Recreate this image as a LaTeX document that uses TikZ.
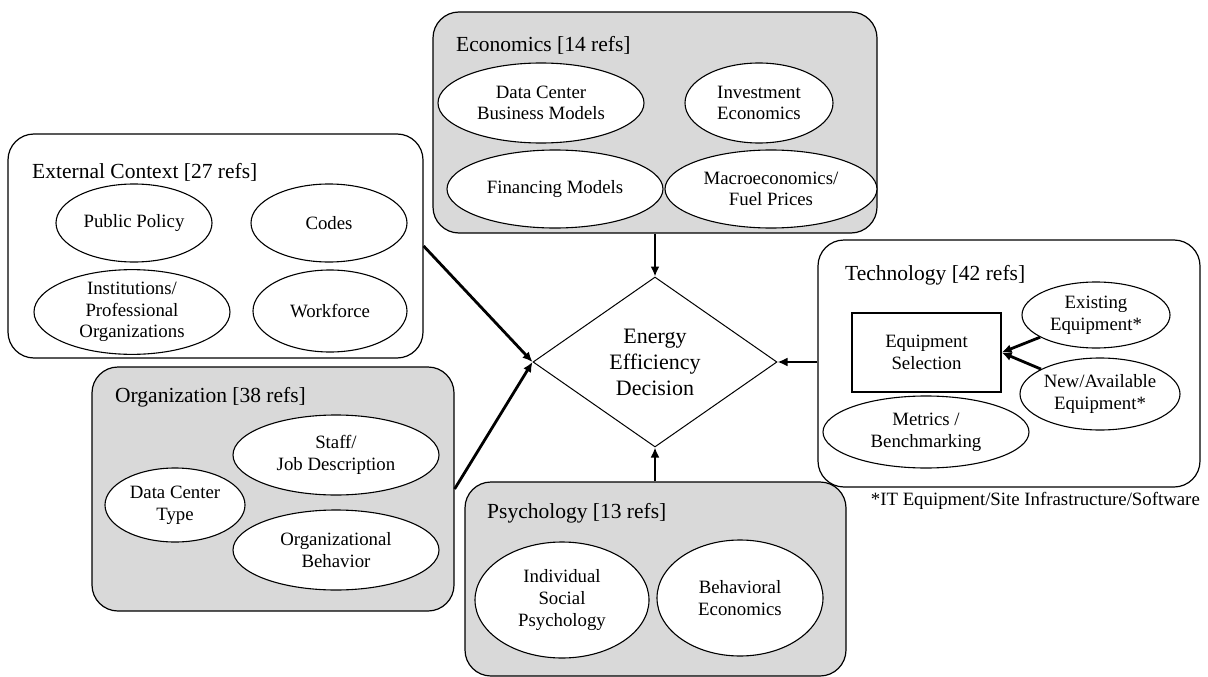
\documentclass[tikz,border=0pt]{standalone}
\usepackage{fontspec}
\setmainfont{Liberation Serif}
\usetikzlibrary{arrows.meta, shapes.geometric}

\definecolor{panelgray}{RGB}{217,217,217}
\newcommand\headfont{\fontsize{21.5}{25}\selectfont}
\newcommand\topicfont{\fontsize{18.8}{21.7}\selectfont}
\newcommand\decfont{\fontsize{22}{26}\selectfont}

\begin{document}
\begin{tikzpicture}[x=1pt, y=-1pt]
\useasboundingbox (0,0) rectangle (1208,677);

% category panels
\begin{scope}[every node/.style={draw, line width=1.2pt, rounded corners=26pt, inner sep=0pt}]
    \node (ext) at (215.5, 246) [fill=white, minimum width=415, minimum height=224] {};
    \node (econ) at (655, 122.5) [fill=panelgray, minimum width=444, minimum height=221] {};
    \node (org) at (273, 489) [fill=panelgray, minimum width=362, minimum height=244] {};
    \node (tech) at (1009, 363.5) [fill=white, minimum width=382, minimum height=247] {};
    \node (psych) at (655.5, 579) [fill=panelgray, minimum width=381, minimum height=194] {};
\end{scope}

\begin{scope}[every node/.style={anchor=base west, inner sep=0pt, font=\headfont}]
    \node (ext-title) at (32, 178) {External Context [27 refs]};
    \node (econ-title) at (456, 52) {Economics [14 refs]};
    \node (org-title) at (115, 402) {Organization [38 refs]};
    \node (tech-title) at (845, 280) {Technology [42 refs]};
    \node (psych-title) at (487, 518) {Psychology [13 refs]};
\end{scope}

% topics
\begin{scope}[every node/.style={ellipse, draw, fill=white, line width=1.1pt, inner sep=0pt, align=center, font=\topicfont}]
    \node (pub) at (134, 223) [minimum width=156, minimum height=78] {Public Policy};
    \node (codes) at (329, 223) [minimum width=156, minimum height=78] {Codes};
    \node (inst) at (132, 312) [minimum width=196, minimum height=82] {Institutions/\\Professional\\Organizations};
    \node (work) at (330, 311) [minimum width=154, minimum height=82] {Workforce};

    \node (dcbm) at (541, 103) [minimum width=206, minimum height=80] {Data Center\\Business Models};
    \node (inv) at (759, 103) [minimum width=148, minimum height=80] {Investment\\Economics};
    \node (fin) at (555, 189) [minimum width=216, minimum height=78] {Financing Models};
    \node (macro) at (771, 189) [minimum width=212, minimum height=78] {Macroeconomics/\\Fuel Prices};

    \node (staff) at (336, 455) [minimum width=206, minimum height=80] {Staff/\\Job Description};
    \node (dctype) at (175, 505) [minimum width=140, minimum height=74] {Data Center\\Type};
    \node (orgbeh) at (336, 550) [minimum width=206, minimum height=80] {Organizational\\Behavior};

    \node (exist) at (1096, 315) [minimum width=148, minimum height=66] {Existing\\Equipment*};
    \node (newav) at (1100, 394) [minimum width=160, minimum height=72] {New/Available\\Equipment*};
    \node (metrics) at (926, 432) [minimum width=206, minimum height=72] {Metrics /\\Benchmarking};

    \node (isp) at (562, 600) [minimum width=174, minimum height=116] {Individual\\Social\\Psychology};
    \node (beco) at (740, 598) [minimum width=166, minimum height=116] {Behavioral\\Economics};
\end{scope}

\node (eqsel) at (926.5, 352.5) [draw, fill=white, line width=1.2pt, minimum width=149, minimum height=79, align=center, font=\topicfont] {Equipment\\Selection};

\node (dec) at (655, 362) [diamond, draw, fill=white, line width=1pt, inner sep=0pt, minimum width=244, minimum height=170, align=center, font=\decfont] {Energy\\Efficiency\\Decision};

\node (note) at (1200, 505) [anchor=base east, inner sep=0pt, font=\topicfont] {*IT Equipment/Site Infrastructure/Software};

\begin{scope}[>={Latex[length=10pt, width=9pt]},
              every edge/.style={draw, line width=2.8pt}]
    \path [->] (econ.south) edge (dec.north);
    \path [->] (psych.north -| dec.south) edge (dec.south);
    \path [->] (tech.west |- dec.east) edge (dec.east);
    \path [->] (ext.east) edge (dec.west);
    \path [->] (org.east) edge (dec.west);

    \path [->] (exist) edge (eqsel.east);
    \path [->] (newav) edge (eqsel.east);
\end{scope}

\end{tikzpicture}
\end{document}
